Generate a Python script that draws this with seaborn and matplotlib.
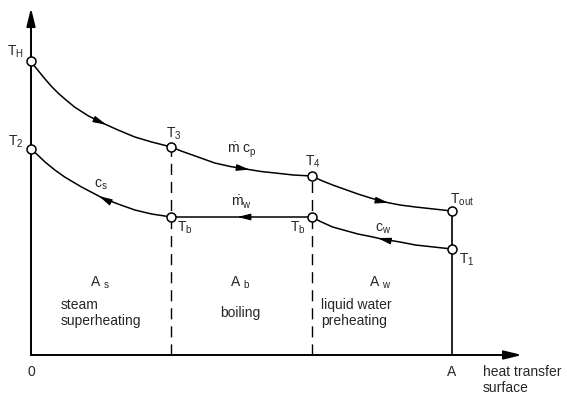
import numpy as np
import pandas as pd
import matplotlib
matplotlib.use("Agg")
import matplotlib.pyplot as plt
import seaborn as sns

sns.set_theme(style="white")
plt.rcParams['font.family'] = ['Liberation Sans', 'DejaVu Sans']
plt.rcParams['mathtext.fontset'] = 'custom'
plt.rcParams['mathtext.rm'] = 'Liberation Sans'
plt.rcParams['mathtext.it'] = 'Liberation Sans'
plt.rcParams['mathtext.sf'] = 'Liberation Sans'

# ---- data (x: heat transfer surface, 0..A=3 ; y: temperature, arbitrary units)
hot_x = [0.00, 0.03, 0.065, 0.10, 0.15, 0.20, 0.25, 0.31, 0.41, 0.51, 0.62, 0.74, 0.86, 1.00,
         1.07, 1.15, 1.23, 1.31, 1.42, 1.53, 1.64, 1.74, 1.87, 2.00,
         2.07, 2.15, 2.24, 2.33, 2.42, 2.52, 2.63, 2.74, 2.87, 3.00]
hot_T = [2.94, 2.88, 2.82, 2.76, 2.68, 2.61, 2.55, 2.48, 2.39, 2.32, 2.25, 2.18, 2.13, 2.08,
         2.04, 2.00, 1.96, 1.92, 1.885, 1.86, 1.835, 1.82, 1.80, 1.79,
         1.745, 1.70, 1.655, 1.61, 1.57, 1.53, 1.50, 1.48, 1.46, 1.44]
cold_x = [0.00, 0.04, 0.10, 0.17, 0.24, 0.36, 0.51, 0.62, 0.74, 0.86, 1.00,
          2.00, 2.07, 2.15, 2.24, 2.33, 2.42, 2.50, 2.63, 2.74, 2.87, 3.00]
cold_T = [2.06, 2.01, 1.93, 1.85, 1.78, 1.68, 1.57, 1.51, 1.45, 1.41, 1.38,
          1.38, 1.33, 1.28, 1.245, 1.21, 1.185, 1.16, 1.13, 1.10, 1.08, 1.06]

hot_pts_x = [0.0, 1.0, 2.0, 3.0]
hot_pts_T = [2.94, 2.08, 1.79, 1.44]
hot_pts_lab = ["T_H", "T_3", "T_4", "T_{out}"]
cold_pts_x = [0.0, 1.0, 2.0, 3.0]
cold_pts_T = [2.06, 1.38, 1.38, 1.06]
cold_pts_lab = ["T_2", "T_b", "T_b", "T_1"]

zone_bounds = [0.0, 1.0, 2.0, 3.0]
zone_sym = ["A_s", "A_b", "A_w"]
zone_desc = ["steam\nsuperheating", "boiling", "liquid water\npreheating"]
x_tick_labels = ["0", "A"]
x_axis_label = "heat transfer\nsurface"

hot_arrow_x = [0.51, 1.53, 2.52]
cold_arrow_x = [0.51, 1.50, 2.50]

# ---- figure
fig = plt.figure(figsize=(5.67, 3.97), dpi=100)
ax = fig.add_axes([0, 0, 1, 1])
XL = (-31 / 140.3, 536 / 140.3)
YL = (-0.42, 3.55)
ax.set_xlim(*XL)
ax.set_ylim(*YL)
ax.axis('off')

FS = 10
lw_curve = 1.1

hot = pd.DataFrame({"x": hot_x, "T": hot_T})
cold = pd.DataFrame({"x": cold_x, "T": cold_T})
sns.lineplot(data=hot, x="x", y="T", sort=False, estimator=None, color="black", lw=lw_curve,
             ax=ax, solid_joinstyle='round')
sns.lineplot(data=cold, x="x", y="T", sort=False, estimator=None, color="black", lw=lw_curve,
             ax=ax, solid_joinstyle='round')
ax.set_xlim(*XL)
ax.set_ylim(*YL)

# axes with arrows
ax.annotate('', xy=(0, 3.47), xytext=(0, 0),
            arrowprops=dict(arrowstyle='-|>,head_length=0.9,head_width=0.22', lw=1.4,
                            color='black', shrinkA=0, shrinkB=0, mutation_scale=12))
ax.annotate('', xy=(3.50, 0), xytext=(0, 0),
            arrowprops=dict(arrowstyle='-|>,head_length=0.9,head_width=0.22', lw=1.4,
                            color='black', shrinkA=0, shrinkB=0, mutation_scale=12))

# vertical boundaries
ax.plot([zone_bounds[1]] * 2, [0, hot_pts_T[1]], color='black', lw=1.0, ls=(0, (8, 5)))
ax.plot([zone_bounds[2]] * 2, [0, hot_pts_T[2]], color='black', lw=1.0, ls=(0, (8, 5)))
ax.plot([zone_bounds[3]] * 2, [0, hot_pts_T[3]], color='black', lw=1.2)

# flow arrows on curves
def flow_arrows(xs, Ts, ax_list, direction):
    for xa in ax_list:
        ya = np.interp(xa, xs, Ts)
        y2 = np.interp(xa + 0.02 * direction, xs, Ts)
        p1 = ax.transData.transform((xa, ya))
        p2 = ax.transData.transform((xa + 0.02 * direction, y2))
        d = (p2 - p1) / np.linalg.norm(p2 - p1)
        tip = ax.transData.inverted().transform(p1 + d * 4)
        tail = ax.transData.inverted().transform(p1 - d * 4)
        ax.annotate('', xy=tip, xytext=tail,
                    arrowprops=dict(arrowstyle='-|>,head_length=0.8,head_width=0.2', lw=0.8,
                                    color='black', shrinkA=0, shrinkB=0, mutation_scale=10))

flow_arrows(hot_x, hot_T, hot_arrow_x, +1)
flow_arrows(cold_x, cold_T, cold_arrow_x, -1)

# state points
pts = pd.DataFrame({"x": hot_pts_x + cold_pts_x, "T": hot_pts_T + cold_pts_T})
sns.scatterplot(data=pts, x="x", y="T", s=42, facecolor="white", edgecolor="black",
                linewidth=1.1, zorder=5, ax=ax)
ax.set_xlim(*XL)
ax.set_ylim(*YL)
ax.axis('off')

def m(s):
    return r'$\mathregular{' + s + '}$'

# point labels
ax.text(-0.05, hot_pts_T[0] + 0.09, m(hot_pts_lab[0]), fontsize=FS, ha='right', va='center')
ax.text(-0.05, cold_pts_T[0] + 0.07, m(cold_pts_lab[0]), fontsize=FS, ha='right', va='center')
ax.text(1.02, hot_pts_T[1] + 0.13, m(hot_pts_lab[1]), fontsize=FS, ha='center', va='center')
ax.text(2.01, hot_pts_T[2] + 0.14, m(hot_pts_lab[2]), fontsize=FS, ha='center', va='center')
ax.text(2.99, hot_pts_T[3] + 0.11, m(hot_pts_lab[3]), fontsize=FS, ha='left', va='center')
ax.text(1.04, cold_pts_T[1] - 0.11, m(cold_pts_lab[1]), fontsize=FS, ha='left', va='center')
ax.text(1.96, cold_pts_T[2] - 0.11, m(cold_pts_lab[2]), fontsize=FS, ha='right', va='center')
ax.text(3.05, cold_pts_T[3] - 0.11, m(cold_pts_lab[3]), fontsize=FS, ha='left', va='center')

# flow labels
ax.text(1.50, 2.05, r'$\dot{\mathregular{m}}\ \mathregular{c_p}$', fontsize=FS, ha='center', va='center')
ax.text(1.50, 1.53, r'$\dot{\mathregular{m}}_\mathregular{w}$', fontsize=FS, ha='center', va='center')
ax.text(0.50, 1.70, m('c_s'), fontsize=FS, ha='center', va='center')
ax.text(2.51, 1.26, m('c_w'), fontsize=FS, ha='center', va='center')

# zones
for i in range(3):
    xc = (zone_bounds[i] + zone_bounds[i + 1]) / 2
    sym = zone_sym[i].split('_')
    ax.text(xc - 0.01, 0.72, r'$\mathregular{' + sym[0] + r'\ _{' + sym[1] + '}}$',
            fontsize=FS, ha='center', va='center')
ax.text(0.21, 0.42, zone_desc[0], fontsize=FS, ha='left', va='center', linespacing=1.15)
ax.text(1.49, 0.42, zone_desc[1], fontsize=FS, ha='center', va='center')
ax.text(2.07, 0.42, zone_desc[2], fontsize=FS, ha='left', va='center', linespacing=1.15)

# axis labels
ax.text(zone_bounds[0], -0.17, x_tick_labels[0], fontsize=FS, ha='center', va='center')
ax.text(zone_bounds[3], -0.17, x_tick_labels[1], fontsize=FS, ha='center', va='center')
ax.text(3.22, -0.25, x_axis_label, fontsize=FS, ha='left', va='center', linespacing=1.1)

fig.savefig("out.png", dpi=100)
